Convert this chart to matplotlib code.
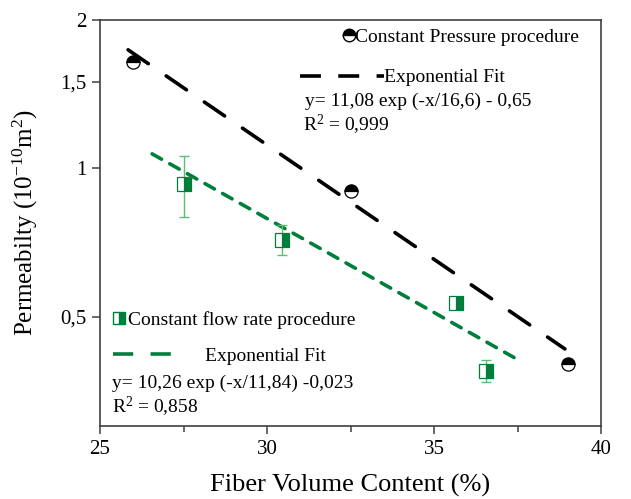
import numpy as np
import matplotlib
matplotlib.use("Agg")
from matplotlib import pyplot as plt
from matplotlib.lines import Line2D
from matplotlib.ticker import FixedLocator, FixedFormatter, NullLocator, MultipleLocator

plt.rcParams['font.family'] = ['Liberation Serif', 'DejaVu Serif']
plt.rcParams['mathtext.fontset'] = 'custom'
plt.rcParams['mathtext.rm'] = 'Liberation Serif'
plt.rcParams['mathtext.it'] = 'Liberation Serif:italic'

# constant pressure procedure
cp_x = [26.0, 32.5, 39.0]
cp_y = [1.64, 0.90, 0.40]
# exponential fit line as drawn (end points)
cp_fit_x = [25.84, 38.92]
cp_fit_y = [1.74, 0.43]

# constant flow rate procedure
cf_x = [27.5, 30.45, 35.65, 36.55]
cf_y = [0.928, 0.717, 0.532, 0.388]
cf_err = [0.13, 0.05, 0.0, 0.02]
cf_fit_x = [26.56, 37.4]
cf_fit_y = [1.07, 0.413]

y_ticks = [0.5, 1.0, 1.5, 2.0]
y_labels = ["0,5", "1", "1,5", "2"]
x_ticks = [25, 30, 35, 40]

green = '#007e3c'
light_green = '#5cbf72'
spine_col = '#404040'

fig = plt.figure(figsize=(6.31, 4.99), dpi=100)
ax = fig.add_axes([100/631, 1 - 426/499, 501/631, 406/499])

# fits
ax.plot(cp_fit_x, cp_fit_y, color='black', lw=2.6, dashes=(6.8, 6.0),
        dash_capstyle='round', zorder=2)
ax.plot(cf_fit_x, cf_fit_y, color=green, lw=2.6, dashes=(3.0, 2.6),
        dash_capstyle='round', zorder=2)

# data
ax.errorbar(cf_x, cf_y, yerr=cf_err, fmt='none', ecolor=light_green, elinewidth=1.0,
            capsize=3.5, capthick=1.0, zorder=3)
ax.plot(cf_x, cf_y, ls='none', marker='s', markersize=9.5, fillstyle='right',
        markerfacecolor=green, markerfacecoloralt='white', markeredgecolor=green,
        markeredgewidth=0.9, zorder=4)
ax.plot(cp_x, cp_y, ls='none', marker='o', markersize=9.5, fillstyle='top',
        markerfacecolor='black', markerfacecoloralt='white', markeredgecolor='black',
        markeredgewidth=0.9, zorder=4)

ax.set_yscale('log')
ax.set_ylim(0.3, 2.0)
ax.set_xlim(25, 40)
ax.yaxis.set_major_locator(FixedLocator(y_ticks))
ax.yaxis.set_major_formatter(FixedFormatter(y_labels))
ax.yaxis.set_minor_locator(NullLocator())
ax.xaxis.set_major_locator(FixedLocator(x_ticks))
ax.xaxis.set_minor_locator(MultipleLocator(2.5))
ax.tick_params(axis='both', which='major', direction='out', length=6, width=1.1,
               color=spine_col, labelsize=15, pad=4)
ax.tick_params(axis='x', which='minor', direction='out', length=4, width=1.1, color=spine_col)
for s in ax.spines.values():
    s.set_color(spine_col)
    s.set_linewidth(1.2)

ax.set_xlabel("Fiber Volume Content (%)", fontsize=19, labelpad=11)
ax.set_ylabel(r"Permeabilty (10$^{-10}$m$^2$)", fontsize=18)
ax.yaxis.set_label_coords(-0.12, 0.5)

# legends
lkw = dict(frameon=False, borderpad=0, borderaxespad=0, handletextpad=0, fontsize=14,
           loc='center left')
h1 = Line2D([], [], ls='none', marker='o', markersize=9, fillstyle='top',
            markerfacecolor='black', markerfacecoloralt='white', markeredgecolor='black')
leg1 = ax.legend([h1], ["Constant Pressure procedure"], handlelength=0.62,
                 bbox_to_anchor=(0.485, 0.958), **lkw)
ax.add_artist(leg1)
h2 = Line2D([], [], color='black', lw=2.6, dashes=(5.8, 4.8))
leg2 = ax.legend([h2], ["Exponential Fit"], handlelength=4.3,
                 bbox_to_anchor=(0.40, 0.858), **lkw)
ax.add_artist(leg2)
h3 = Line2D([], [], ls='none', marker='s', markersize=8.5, fillstyle='right',
            markerfacecolor=green, markerfacecoloralt='white', markeredgecolor=green)
leg3 = ax.legend([h3], ["Constant flow rate procedure"], handlelength=0.9,
                 bbox_to_anchor=(0.021, 0.261), **lkw)
ax.add_artist(leg3)
h4 = Line2D([], [], color=green, lw=2.6, dashes=(5.6, 4.8))
lkw4 = dict(lkw, handletextpad=1.7)
ax.legend([h4], ["Exponential Fit"], handlelength=3.05,
          bbox_to_anchor=(0.026, 0.172), **lkw4)

ax.text(0.409, 0.800, "y= 11,08 exp (-x/16,6) - 0,65", transform=ax.transAxes,
        fontsize=14, va='center', ha='left')
ax.text(0.405, 0.741, "R$^2$ = 0,999", transform=ax.transAxes,
        fontsize=14, va='center', ha='left')
ax.text(0.024, 0.106, "y= 10,26 exp (-x/11,84) -0,023", transform=ax.transAxes,
        fontsize=14, va='center', ha='left')
ax.text(0.024, 0.047, "R$^2$ = 0,858", transform=ax.transAxes,
        fontsize=14, va='center', ha='left')

fig.savefig("out.png", dpi=100)
